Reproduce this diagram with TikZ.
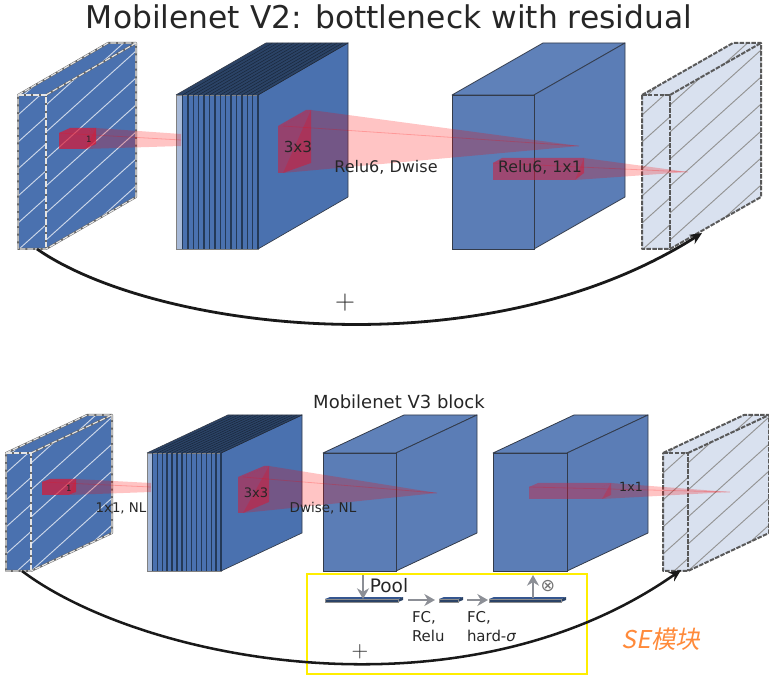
\documentclass[tikz,border=0pt]{standalone}
\usepackage{fontspec}
\setmainfont{DejaVu Sans}
\newfontfamily\cjkfont[FakeSlant=0.2]{Noto Sans CJK SC}
\usetikzlibrary{arrows.meta}
\definecolor{bluedeep}{HTML}{4A71AF}
\definecolor{bluesoft}{HTML}{5B7DB6}
\definecolor{bluetop}{HTML}{5F81B9}
\definecolor{stackdark}{HTML}{2B4366}
\definecolor{stacklight}{HTML}{A8BAD8}
\definecolor{palefill}{HTML}{D9E1EF}
\definecolor{inkedge}{HTML}{333B4A}
\definecolor{txt}{HTML}{262626}
\definecolor{seyellow}{HTML}{FFEE00}
\definecolor{seorange}{HTML}{FF8A3A}
\definecolor{arrowgray}{HTML}{8C8F96}
\definecolor{barblue}{HTML}{35568F}
\definecolor{crimsonred}{HTML}{E0142F}
\tikzset{
  lbl/.style={text=txt,inner sep=0pt,outer sep=0pt},
  curveline/.style={line width=2.1pt,draw=black!90,-{Stealth[length=9pt,width=8pt]}},
  segray/.style={line width=2.2pt,draw=arrowgray,-{Stealth[length=8pt,width=9pt]}},
  cone/.style={fill=red,fill opacity=0.23,draw=none},
  coneline/.style={draw=red,draw opacity=0.22,line width=0.6pt},
}
% plain solid cuboid: x0 x1 dx y0 y1 dy frontcol topcol
\newcommand{\solidcuboid}[8]{
  \draw[fill=#7,draw=inkedge,line width=0.6pt,line join=round] (#1,#4) -- ({#1+#3},{#4-#6}) -- ({#2+#3},{#4-#6}) -- (#2,#4) -- cycle;
  \draw[fill=#8,draw=inkedge,line width=0.6pt,line join=round] (#2,#4) -- ({#2+#3},{#4-#6}) -- ({#2+#3},{#5-#6}) -- (#2,#5) -- cycle;
  \draw[fill=#8,draw=inkedge,line width=0.6pt] (#1,#4) rectangle (#2,#5);
}
% thin bar of the SE module
\newcommand{\sebar}[4]{
  \fill[barblue] (#1,#3) -- ({#1+5},{#3-2}) -- ({#2+5},{#3-2}) -- (#2,#3) -- cycle;
  \fill[stackdark] (#2,#3) -- ({#2+5},{#3-2}) -- ({#2+5},{#4-2}) -- (#2,#4) -- cycle;
  \fill[stackdark] (#1,#3) rectangle (#2,#4);
  \draw[black!45,line width=0.35pt] (#1,#3) rectangle (#2,#4);
}
% stacked cuboid: x0 x1 dx y0 y1 dy step lightwidth
\newcommand{\stackcuboid}[8]{
  \fill[stackdark] (#1,#4) -- ({#1+#3},{#4-#6}) -- ({#2+#3},{#4-#6}) -- (#2,#4) -- cycle;
  \fill[bluedeep] (#2,#4) -- ({#2+#3},{#4-#6}) -- ({#2+#3},{#5-#6}) -- (#2,#5) -- cycle;
  \draw[inkedge,line width=0.5pt] (#2,#4) -- ({#2+#3},{#4-#6}) -- ({#2+#3},{#5-#6}) -- (#2,#5);
  \fill[bluedeep] (#1,#4) rectangle (#2,#5);
  \fill[stacklight] (#1,#4) rectangle ({#1+#8},#5);
  \draw[gray,line width=0.4pt] (#1,#4) rectangle (#2,#5);
  \pgfmathsetmacro{\nlines}{int(floor((#2-#1-#8)/#7+0.01))}
  \foreach \i in {0,...,\nlines}{
    \pgfmathsetmacro{\xx}{#2-\i*#7}
    \draw[stackdark!85!black,line width=1.05pt] (\xx,#4) -- (\xx,#5);
    \draw[stackdark!55!black,line width=0.35pt] (\xx,#4) -- ({\xx+#3},{#4-#6});
  }
  \draw[inkedge,line width=0.5pt] (#1,#4) -- ({#1+#3},{#4-#6}) -- ({#2+#3},{#4-#6});
}
% hatched slab: x0 x1 dx y0 y1 dy fill hatch
\newcommand{\hatchlines}[5]{% xleft, first, second, last, colour
  \foreach \c in {#2,#3,...,#4}{
    \draw[#5,line width=0.7pt] (#1,\c) -- ({#1+400},{\c-360});
  }
}
\newcommand{\slabfaces}[8]{
  \fill[#7] (#1,#4) -- ({#1+#3},{#4-#6}) -- ({#2+#3},{#4-#6}) -- ({#2+#3},{#5-#6}) -- (#2,#5) -- (#1,#5) -- cycle;
  \begin{scope}
    \clip (#2,#4) -- ({#2+#3},{#4-#6}) -- ({#2+#3},{#5-#6}) -- (#2,#5) -- cycle;
    \pgfmathsetmacro{\cfirst}{#4+10}\pgfmathsetmacro{\csecond}{#4+10+27}\pgfmathsetmacro{\clast}{#5+80}
    \hatchlines{#2}{\cfirst}{\csecond}{\clast}{#8}
  \end{scope}
  \begin{scope}
    \clip (#1,#4) rectangle (#2,#5);
    \pgfmathsetmacro{\cfirst}{#4+20}\pgfmathsetmacro{\csecond}{#4+20+27}\pgfmathsetmacro{\clast}{#5+40}
    \hatchlines{#1}{\cfirst}{\csecond}{\clast}{#8}
  \end{scope}
  \begin{scope}
    \clip (#1,#4) -- ({#1+#3},{#4-#6}) -- ({#2+#3},{#4-#6}) -- (#2,#4) -- cycle;
    \pgfmathsetmacro{\cfirst}{#4+5}\pgfmathsetmacro{\csecond}{#4+5+38}\pgfmathsetmacro{\clast}{#4+90}
    \hatchlines{#1}{\cfirst}{\csecond}{\clast}{#8}
  \end{scope}
}
\newcommand{\slabedges}[7]{
  \draw[#7,line join=round] (#1,#4) -- ({#1+#3},{#4-#6}) -- ({#2+#3},{#4-#6}) -- ({#2+#3},{#5-#6}) -- (#2,#5) -- (#1,#5) -- cycle;
  \draw[#7] (#1,#4) -- (#2,#4) -- (#2,#5);
  \draw[#7] (#2,#4) -- ({#2+#3},{#4-#6});
}
\newcommand{\blueslab}[6]{
  \slabfaces{#1}{#2}{#3}{#4}{#5}{#6}{bluedeep}{white!72!bluedeep}
  \slabedges{#1}{#2}{#3}{#4}{#5}{#6}{draw=black!60,line width=1.5pt}
  \slabedges{#1}{#2}{#3}{#4}{#5}{#6}{draw=white!90!black,line width=0.85pt,dash pattern=on 4.2pt off 1.5pt}
}
\newcommand{\paleslab}[6]{
  \slabfaces{#1}{#2}{#3}{#4}{#5}{#6}{palefill}{black!42}
  \slabedges{#1}{#2}{#3}{#4}{#5}{#6}{draw=black!65,line width=1.5pt,dash pattern=on 3.4pt off 1pt}
}
% red cube: fx0 fx1 fy0 fy1 bx by0 by1 opacity
\newcommand{\redcube}[8]{
  \fill[crimsonred,fill opacity=#8] (#1,#3) -- ({#1+(#5-#2)},#6) -- (#5,#6) -- (#2,#3) -- cycle;
  \fill[crimsonred,fill opacity=#8] (#2,#3) -- (#5,#6) -- (#5,#7) -- (#2,#4) -- cycle;
  \fill[crimsonred,fill opacity=#8] (#1,#3) rectangle (#2,#4);
}
\begin{document}
\begin{tikzpicture}[x=0.75pt,y=-0.75pt]
\useasboundingbox (0,0) rectangle (769,688);
% ---------- top block ----------
\blueslab{18}{46}{90}{95}{249}{52}
\stackcuboid{176}{258}{90}{95}{249}{52}{5.4}{6}
\solidcuboid{452}{534}{91}{95}{249}{52}{bluetop}{bluesoft}
\paleslab{642}{670}{91}{95}{249}{52}
% cones and red cubes, top
\fill[cone] (96,128) -- (181,134) -- (181,146) -- (85,149) -- cycle;
\draw[coneline] (59,133) -- (181,140);
\redcube{59}{85}{133}{149}{96}{128}{144}{0.68}
\fill[cone] (311,110) -- (579,146) -- (283,173) -- cycle;
\draw[coneline] (283,126) -- (579,146);
\redcube{278}{283}{126}{173}{311}{110}{163}{0.5}
\fill[cone] (584,158) -- (688,172) -- (575,180) -- cycle;
\draw[coneline] (493,163) -- (688,172);
\redcube{493}{575}{163}{180}{584}{158}{173}{0.5}
% ---------- bottom block ----------
\blueslab{6}{31}{81}{453}{571}{38}
\stackcuboid{147}{221}{81}{453}{571}{38}{4.9}{5}
\solidcuboid{323}{396}{81}{453}{571}{38}{bluetop}{bluesoft}
\solidcuboid{493}{567}{81}{453}{571}{38}{bluetop}{bluesoft}
\paleslab{663}{688}{81}{453}{571}{38}
% cones and red cubes, bottom
\fill[cone] (76,479) -- (151,483) -- (151,492) -- (68,495) -- cycle;
\draw[coneline] (42,482) -- (151,487);
\redcube{42}{68}{482}{495}{76}{479}{492}{0.68}
\fill[cone] (269,466) -- (437,493) -- (243,513) -- cycle;
\draw[coneline] (243,477) -- (437,493);
\redcube{238}{243}{477}{513}{269}{466}{502}{0.5}
\fill[cone] (611,483) -- (730,492) -- (602,499) -- cycle;
\draw[coneline] (529,487) -- (730,492);
\redcube{529}{602}{487}{499}{611}{483}{495}{0.38}
% ---------- SE module ----------
\sebar{325}{398}{599}{602}
\sebar{439}{458}{599}{602}
\sebar{489}{561}{599}{602}
\coordinate (poolstart) at (363,575);
\coordinate (poolend) at (363,599);
\coordinate (fcastart) at (408,600);
\coordinate (fcaend) at (435,600);
\coordinate (fcbstart) at (467,600);
\coordinate (fcbend) at (488,600);
\coordinate (upstart) at (533,598);
\coordinate (upend) at (533,575);
\draw[segray] (poolstart) -- (poolend);
\draw[segray] (fcastart) -- (fcaend);
\draw[segray] (fcbstart) -- (fcbend);
\draw[segray] (upstart) -- (upend);
\draw[seyellow,line width=1.6pt] (307,574) rectangle (587,674);
% ---------- residual curves ----------
\coordinate (topfrom) at (37,249);
\coordinate (topto) at (702,233);
\draw[curveline] (topfrom) .. controls (150,328) and (480,374) .. (topto);
\coordinate (botfrom) at (22,571);
\coordinate (botto) at (681,570);
\draw[curveline,line width=1.9pt] (botfrom) .. controls (140,660) and (460,725) .. (botto);
% ---------- text ----------
\node[lbl,font=\fontsize{23.5pt}{27pt}\selectfont] (title) at (389,17) {Mobilenet V2: bottleneck with residual};
\node[lbl,font=\fontsize{6.5pt}{8pt}\selectfont] (one) at (89,139) {1};
\node[lbl,font=\fontsize{11.4pt}{13pt}\selectfont] (threetop) at (298,147) {3x3};
\node[lbl,font=\fontsize{12pt}{14pt}\selectfont] (reludw) at (386,167) {Relu6, Dwise};
\node[lbl,font=\fontsize{11.8pt}{14pt}\selectfont] (reluone) at (540,167) {Relu6, 1x1};
\node[lbl,font=\fontsize{20pt}{22pt}\selectfont] (plustop) at (345,303) {$+$};
\node[lbl,font=\fontsize{13.5pt}{16pt}\selectfont] (v3) at (399,402) {Mobilenet V3 block};
\node[lbl,font=\fontsize{6.5pt}{8pt}\selectfont] (onebot) at (69,488) {1};
\node[lbl,font=\fontsize{10pt}{12pt}\selectfont] (nl) at (121,508) {1x1, NL};
\node[lbl,font=\fontsize{9.8pt}{12pt}\selectfont] (threebot) at (256,493) {3x3};
\node[lbl,font=\fontsize{10.1pt}{12pt}\selectfont] (dw) at (323,508) {Dwise, NL};
\node[lbl,font=\fontsize{9.5pt}{11pt}\selectfont] (oneone) at (631,487) {1x1};
\node[lbl,font=\fontsize{13.9pt}{16pt}\selectfont] (pool) at (389,586) {Pool};
\node[lbl,font=\fontsize{13pt}{15pt}\selectfont,text=black!55] (otimes) at (548,586) {⊗};
\node[lbl,font=\fontsize{11.2pt}{13pt}\selectfont,anchor=west] (fca) at (412,618) {FC,};
\node[lbl,font=\fontsize{11.2pt}{13pt}\selectfont,anchor=west] (relu) at (412,636) {Relu};
\node[lbl,font=\fontsize{11.2pt}{13pt}\selectfont,anchor=west] (fcb) at (467,618) {FC,};
\node[lbl,font=\fontsize{11.2pt}{13pt}\selectfont,anchor=west] (hard) at (467,636) {hard-{\itshape σ}};
\node[lbl,font=\fontsize{18pt}{20pt}\selectfont] (plusbot) at (360,652) {$+$};
\node[inner sep=0pt,text=seorange,font=\fontsize{18.4pt}{21pt}\selectfont\cjkfont] (se) at (661,639) {SE模块};
\end{tikzpicture}
\end{document}
